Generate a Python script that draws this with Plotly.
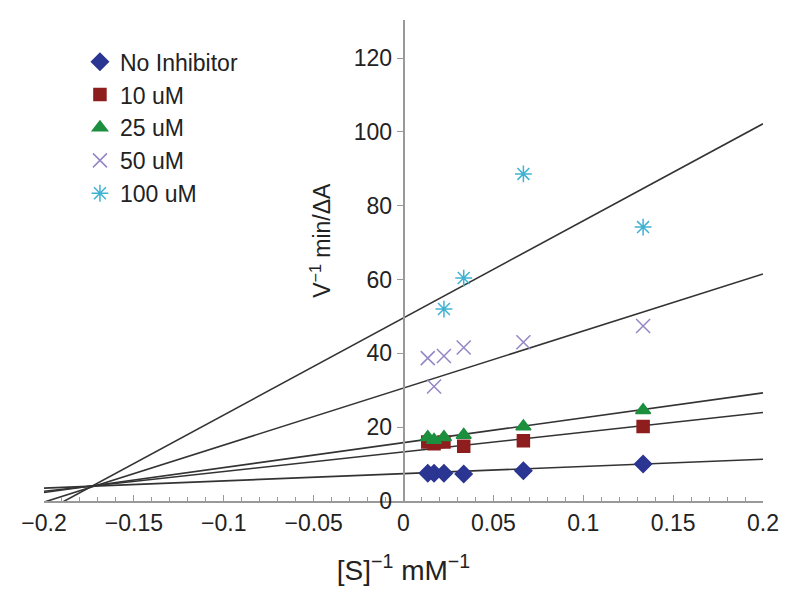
import plotly.graph_objects as go

# Lineweaver-Burk data, 1/[S] (mM^-1) vs 1/V (min/dA)
inv_s = [0.0135, 0.017, 0.0225, 0.0335, 0.0667, 0.1333]
inv_s_100 = [0.0225, 0.0335, 0.0667, 0.1333]

no_inhibitor = [7.5, 7.5, 7.5, 7.3, 8.2, 10.0]
um_10 = [16.0, 15.5, 16.0, 14.8, 16.3, 20.2]
um_25 = [17.3, 16.5, 17.3, 17.9, 20.2, 24.6]
um_50 = [38.7, 31.0, 39.3, 41.6, 43.0, 47.4]
um_100 = [52.0, 60.4, 88.6, 74.2]

# fitted lines: intercept and slope
intercepts = [7.4, 13.3, 15.8, 30.6, 49.6]
slopes = [19.5, 53.3, 67.5, 154.5, 263.0]
x_fit = [-0.2, 0.2]

font_name = "Liberation Sans, Arial, sans-serif"

series = [
    ("No Inhibitor", inv_s, no_inhibitor, "diamond", "#2b3592", 13),
    ("10 uM", inv_s, um_10, "square", "#8e1d1d", 12),
    ("25 uM", inv_s, um_25, "triangle-up", "#1b8f3e", 13),
    ("50 uM", inv_s, um_50, "x-thin-open", "#9486c6", 14),
    ("100 uM", inv_s_100, um_100, "asterisk-open", "#3fb2d2", 14),
]

fig = go.Figure()

for b, s in zip(intercepts, slopes):
    fig.add_trace(go.Scatter(x=x_fit, y=[b + s * x for x in x_fit], mode="lines",
                             line=dict(color="#333333", width=1.6),
                             showlegend=False, hoverinfo="skip"))

for name, xs, ys, sym, col, size in series:
    fig.add_trace(go.Scatter(x=xs, y=ys, mode="markers", name=name,
                             marker=dict(symbol=sym, color=col, size=size,
                                         line=dict(color=col, width=1.5))))

fig.update_layout(
    width=800, height=600,
    margin=dict(l=36, r=45, t=12, b=107),
    plot_bgcolor="white", paper_bgcolor="white",
    font=dict(family=font_name, size=23, color="#222222"),
    legend=dict(x=0.05, y=0.958, xanchor="left", yanchor="top",
                font=dict(size=23), bgcolor="rgba(0,0,0,0)", itemwidth=30,
                tracegroupgap=0),
    xaxis=dict(range=[-0.2, 0.2], dtick=0.05, showgrid=False, zeroline=False,
               showline=True, linecolor="#999999", linewidth=2,
               ticks="inside", ticklen=6, tickcolor="#999999",
               minor=dict(dtick=0.01, ticks="inside", ticklen=4, tickcolor="#999999"),
               automargin=False,
               title=dict(text="[S]<sup>\u22121</sup> mM<sup>\u22121</sup>", standoff=26)),
    yaxis=dict(range=[0, 130.3], dtick=20, showgrid=False, zeroline=False,
               showline=True, linecolor="#999999", linewidth=1.5,
               ticks="outside", ticklen=6, tickcolor="#999999",
               anchor="free", position=0.5, automargin=False),
)

fig.add_annotation(text="V<sup>\u22121</sup> min/\u0394A", xref="x", yref="y",
                   x=-0.046, y=70.7, textangle=-90, showarrow=False,
                   font=dict(size=23))

fig.write_html("out.html")
